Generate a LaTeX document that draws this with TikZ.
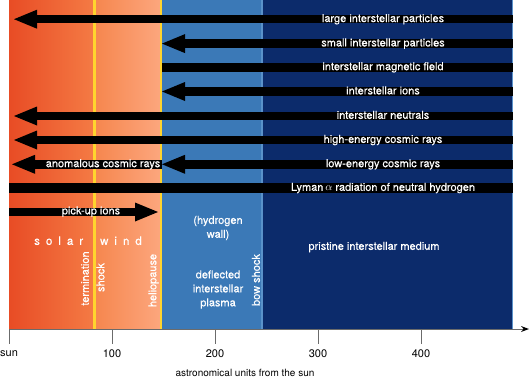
\documentclass[tikz,border=0pt]{standalone}
\usepackage{fontspec}
\setmainfont{TeX Gyre Heros}
\newfontfamily\lblfont[FakeBold=0.3]{TeX Gyre Heros}
\usetikzlibrary{arrows.meta}
\definecolor{orA}{HTML}{E84C25}
\definecolor{orB}{HTML}{F47A44}
\definecolor{orC}{HTML}{F6874F}
\definecolor{orD}{HTML}{FCA67D}
\definecolor{ylw}{HTML}{FFD42E}
\definecolor{bluM}{HTML}{3B79B7}
\definecolor{bluS}{HTML}{5A92CA}
\definecolor{bluD}{HTML}{0C2B6B}
\definecolor{axisgray}{HTML}{6B6B6B}
\begin{document}
\begin{tikzpicture}[x=1pt,y=-1pt,
  flux/.style={line width=8.5pt, draw=black, -{Triangle[length=23pt,width=19pt,line width=0pt]}},
  fluxbar/.style={line width=8.5pt, draw=black},
  lbl/.style={text=white, inner sep=0pt, font=\lblfont\fontsize{11}{13}\selectfont, text height=8pt, text depth=2.3pt},
  vlbl/.style={lbl, rotate=90},
  region/.style={text=white, inner sep=0pt, font=\lblfont\fontsize{11}{14}\selectfont, align=center},
  ticksty/.style={draw=axisgray, line width=1pt},
  num/.style={inner sep=0pt, font=\fontsize{11}{13}\selectfont, text=black}
]
\useasboundingbox (0,0) rectangle (530,380);
% zones
\shade[left color=orA,right color=orB] (9,0) rectangle (93,329);
\shade[left color=orC,right color=orD] (96,0) rectangle (160,329);
\fill[bluM] (162,0) rectangle (261,329);
\fill[bluS] (261,0) rectangle (263,329);
\fill[bluD] (263,0) rectangle (511.5,329);
\fill[bluS] (511.5,0) rectangle (513,329);
\fill[ylw] (93,0) rectangle (96,329);
\fill[ylw] (159.5,0) rectangle (162,329);

% arrow end points
\coordinate (a1s) at (513,19.2);  \coordinate (a1e) at (14,19.2);
\coordinate (a2s) at (513,43.6);  \coordinate (a2e) at (162,43.6);
\coordinate (a3s) at (513,67.3);  \coordinate (a3e) at (162,67.3);
\coordinate (a4s) at (513,91.5);  \coordinate (a4e) at (162,91.5);
\coordinate (a5s) at (513,116);   \coordinate (a5e) at (14,116);
\coordinate (a6s) at (513,140);   \coordinate (a6e) at (14,140);
\coordinate (a7s) at (513,164.3); \coordinate (a7e) at (162,164.3);
\coordinate (a7bs) at (162,164.3); \coordinate (a7be) at (12,164.3);
\coordinate (a8s) at (9,188);     \coordinate (a8e) at (513,188);
\coordinate (a9s) at (9,212);     \coordinate (a9e) at (158,212);

\draw[flux] (a1s) -- (a1e);
\draw[flux] (a2s) -- (a2e);
\draw[fluxbar] (a3s) -- (a3e);
\draw[flux] (a4s) -- (a4e);
\draw[flux] (a5s) -- (a5e);
\draw[flux] (a6s) -- (a6e);
\draw[flux] (a7bs) -- (a7be);
\draw[flux] (a7s) -- (a7e);
\draw[fluxbar, line width=9.5pt] (a8s) -- (a8e);
\draw[flux] (a9s) -- (a9e);

% arrow labels
\node[lbl] (l1) at (383,19.2) {large interstellar particles};
\node[lbl] (l2) at (383,43.6) {small interstellar particles};
\node[lbl] (l3) at (383,67.3) {interstellar magnetic field};
\node[lbl] (l4) at (383,91.5) {interstellar ions};
\node[lbl] (l5) at (383,116) {interstellar neutrals};
\node[lbl] (l6) at (383,140) {high-energy cosmic rays};
\node[lbl] (l7) at (383,164.3) {low-energy cosmic rays};
\node[lbl] (l7b) at (103,164.3) {anomalous cosmic rays};
\node[lbl] (l8) at (383,188) {Lyman\,$\alpha$ radiation of neutral hydrogen};
\node[lbl] (l9) at (91,211.5) {pick-up ions};

% region labels
\node[lbl, font=\lblfont\fontsize{11.5}{13}\selectfont] (sw) at (88,242) {s\kern6pt o\kern6pt l\kern6pt a\kern6pt r\kern17pt w\kern6pt i\kern6pt n\kern6pt d};
\node[vlbl] (term) at (86,278.5) {termination};
\node[vlbl] (shk) at (101.5,277.5) {shock};
\node[vlbl] (hp) at (153.5,280.5) {heliopause};
\node[vlbl] (bs) at (257,280) {bow shock};
\node[region] (hw) at (218,228) {(hydrogen\\wall)};
\node[region] (dip) at (218,289.5) {deflected\\interstellar\\plasma};
\node[lbl] (pim) at (374,247) {pristine interstellar medium};

% axis
\coordinate (ax0) at (9,329);
\coordinate (ax1) at (529,329);
\draw[draw=axisgray, line width=1pt, -{Stealth[length=8pt,width=6pt,line width=0pt,color=black]}] (ax0) -- (ax1);
\foreach \x/\l/\n in {9/sun/0, 112/100/1, 215/200/2, 318/300/3, 421/400/4} {
  \coordinate (tk\n) at (\x,329);
  \coordinate (tkb\n) at (\x,344);
  \draw[ticksty] (tk\n) -- (tkb\n);
  \node[num] (lab\n) at (\x,354) {\l};
}
\node[inner sep=0pt, font=\fontsize{10}{12}\selectfont] (axt) at (245,373) {astronomical units from the sun};
\end{tikzpicture}
\end{document}
